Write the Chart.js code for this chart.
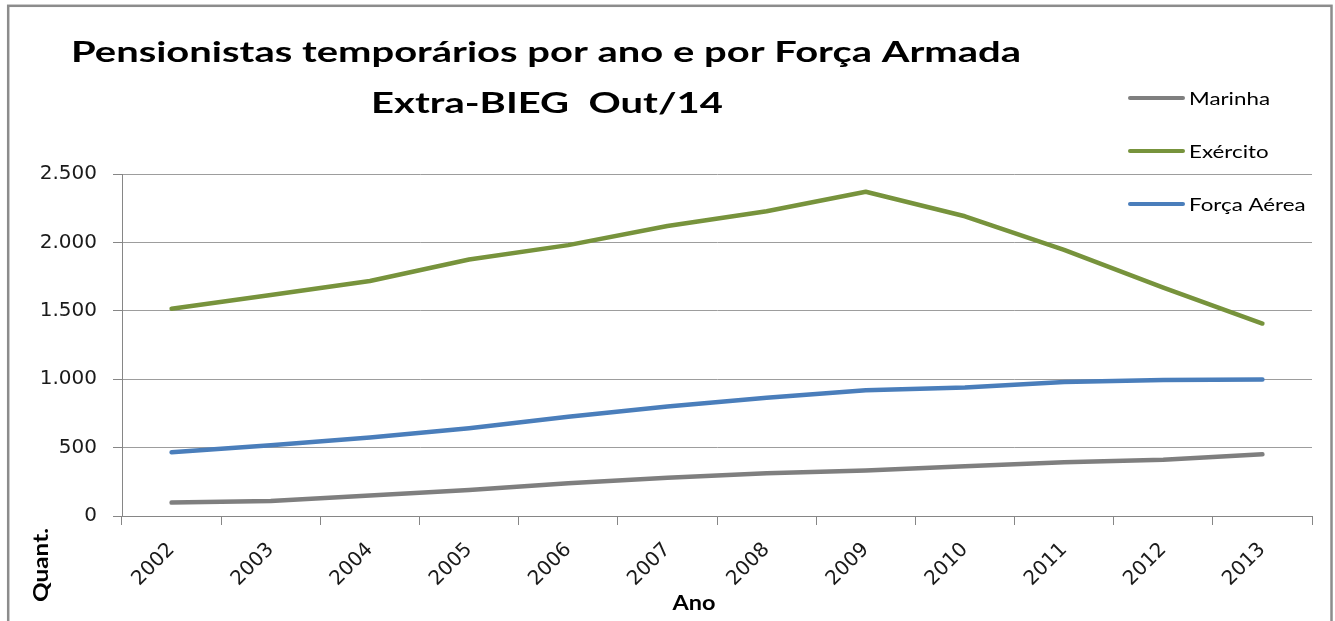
<!DOCTYPE html>
<html><head><meta charset="utf-8">
<script src="https://cdn.jsdelivr.net/npm/chart.js@4.4.1/dist/chart.umd.min.js"></script>
<style>html,body{margin:0;padding:0;background:#fff;overflow:hidden}canvas{display:block}</style>
</head><body>
<canvas id="c" width="1335" height="621"></canvas>
<script>
const years = ['2002','2003','2004','2005','2006','2007','2008','2009','2010','2011','2012','2013'];
const marinha = [98, 110, 150, 190, 240, 280, 313, 333, 364, 393, 411, 451];
const exercito = [1515, 1615, 1718, 1875, 1980, 2120, 2228, 2370, 2191, 1946, 1670, 1407];
const forcaAerea = [466, 518, 573, 641, 725, 800, 865, 920, 940, 980, 995, 998];
const seriesNames = ['Marinha', 'Exército', 'Força Aérea'];
const seriesColors = ['#7f7f7f', '#77933C', '#4A7EBB'];
const yMin = 0, yMax = 2500, yStep = 500;
const titleLines = ['Pensionistas temporários por ano e por Força Armada', 'Extra-BIEG  Out/14'];
const xTitle = 'Ano';
const yTitle = 'Quant.';

function fmt(v) { return String(v).replace(/\B(?=(\d{3})+(?!\d))/g, '.'); }

function drawText(ctx, text, x, y, font, align, sx, angle) {
  ctx.save();
  ctx.font = font;
  ctx.translate(x, y);
  if (angle) ctx.rotate(angle);
  ctx.scale(sx || 1, 1);
  ctx.textAlign = align;
  ctx.textBaseline = 'alphabetic';
  ctx.fillStyle = '#000';
  ctx.fillText(text, 0, 0);
  ctx.restore();
}
function fitScale(ctx, text, font, target) {
  ctx.save(); ctx.font = font; const w = ctx.measureText(text).width; ctx.restore();
  return target / w;
}

const deco = {
  id: 'deco',
  beforeDraw(chart) {
    const ctx = chart.ctx;
    ctx.save();
    ctx.fillStyle = '#ffffff';
    ctx.fillRect(0, 0, chart.width, chart.height);
    ctx.strokeStyle = '#8c8c8c';
    ctx.lineWidth = 2.5;
    ctx.strokeRect(8.2, 5.8, 1323.3, 700);
    ctx.restore();
  },
  afterDraw(chart) {
    const ctx = chart.ctx;
    // title
    const tFont = 'bold 28px Lato';
    const tsx = fitScale(ctx, titleLines[0], tFont, 950);
    drawText(ctx, titleLines[0], 546, 62, tFont, 'center', tsx);
    drawText(ctx, titleLines[1], 547, 113, tFont, 'center', tsx);
    // legend
    const lFont = '18px Lato';
    const lsx = fitScale(ctx, seriesNames[0], lFont, 81);
    chart.data.datasets.forEach((ds, i) => {
      const y = 98 + i * 53;
      ctx.save();
      ctx.strokeStyle = ds.borderColor;
      ctx.lineWidth = 4;
      ctx.lineCap = 'round';
      ctx.beginPath(); ctx.moveTo(1130, y); ctx.lineTo(1183, y); ctx.stroke();
      ctx.restore();
      drawText(ctx, ds.label, 1189, y + 6.5, lFont, 'left', lsx);
    });
    // axis titles
    const aFont = 'bold 21px Lato';
    drawText(ctx, yTitle, 48, 565, aFont, 'center', fitScale(ctx, yTitle, aFont, 74), -Math.PI / 2);
    drawText(ctx, xTitle, 694, 610, aFont, 'center', fitScale(ctx, xTitle, aFont, 43));
  }
};

const tickFont = { family: 'DejaVu Sans', size: 20 };

new Chart(document.getElementById('c'), {
  type: 'line',
  data: {
    labels: years,
    datasets: [marinha, exercito, forcaAerea].map((d, i) => ({
      label: seriesNames[i],
      data: d,
      borderColor: seriesColors[i],
      backgroundColor: seriesColors[i],
      borderWidth: 4.5,
      pointRadius: 0,
      pointHoverRadius: 0,
      tension: 0,
      borderJoinStyle: 'round',
      borderCapStyle: 'round',
      fill: false
    }))
  },
  options: {
    responsive: false,
    animation: false,
    devicePixelRatio: 1,
    layout: { padding: { left: 8, right: 23, top: 174, bottom: 0 } },
    plugins: { legend: { display: false }, title: { display: false }, tooltip: { enabled: false } },
    scales: {
      x: {
        offset: true,
        grid: { display: true, drawOnChartArea: false, drawTicks: true, tickLength: 9, color: '#868686', offset: true },
        border: { display: true, color: '#868686', width: 1 },
        ticks: { autoSkip: false, maxRotation: 45, minRotation: 45, padding: 13, font: tickFont, color: '#1a1a1a' },
        afterFit(s) { s.height = 105; }
      },
      y: {
        min: yMin, max: yMax,
        grid: { color: '#9d9d9d', lineWidth: 1, drawTicks: true, tickLength: 9, tickColor: '#868686' },
        border: { display: true, color: '#868686', width: 1 },
        ticks: { stepSize: yStep, padding: 16, font: tickFont, color: '#1a1a1a', callback: v => fmt(v) },
        afterFit(s) { s.width = 114; }
      }
    }
  },
  plugins: [deco]
});
</script>
</body></html>
